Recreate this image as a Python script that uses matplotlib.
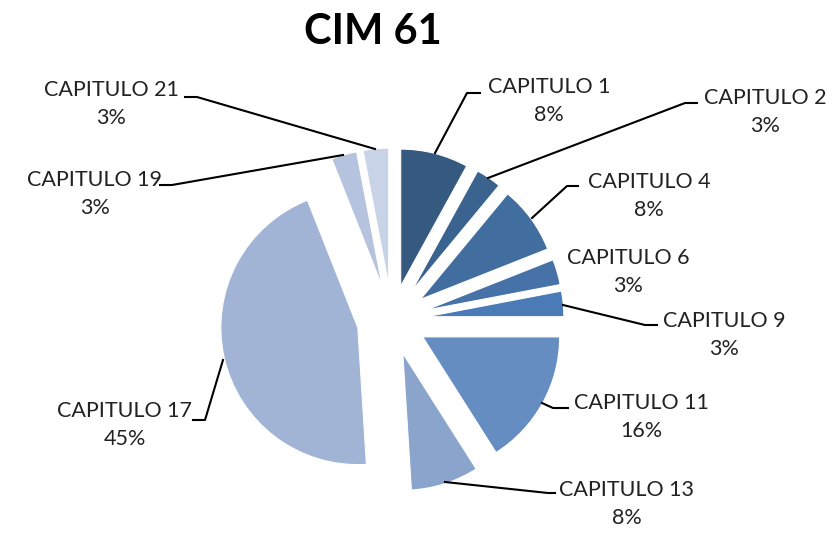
import matplotlib.pyplot as plt

# data
labels = ['CAPITULO 1', 'CAPITULO 2', 'CAPITULO 4', 'CAPITULO 6', 'CAPITULO 9',
          'CAPITULO 11', 'CAPITULO 13', 'CAPITULO 17', 'CAPITULO 19', 'CAPITULO 21']
values = [8, 3, 8, 3, 3, 16, 8, 45, 3, 3]
colors = ['#35597f', '#3b6390', '#416d9f', '#4672a8', '#4a7bb7',
          '#658dc1', '#8aa4cb', '#a2b4d6', '#b5c3de', '#c9d3e7']

# label text centres and leader lines (pixel coords, y from top)
label_pos = [(549, 101), (765, 112), (649, 196), (628, 272), (724, 335),
             (641, 417), (627, 504), (125, 425), (95, 194), (111, 104)]
leaders = [
    [(435, 153), (467, 93), (480, 93)],
    [(488, 178), (685, 103), (697, 103)],
    [(532, 218), (567, 186), (578, 186)],
    None,
    [(563, 305), (645, 325), (657, 325)],
    [(542, 403), (553, 408), (568, 408)],
    [(445, 482), (548, 493), (555, 493)],
    [(223, 360), (205, 420), (193, 420)],
    [(343, 155), (172, 185), (160, 185)],
    [(375, 149), (197, 97), (185, 97)],
]

W, H = 834, 534
fig = plt.figure(figsize=(W / 100, H / 100), dpi=100)
ax = fig.add_axes([0, 0, 1, 1])

# explode is in data units here (pixels)
ax.pie(values, colors=colors, startangle=90, counterclock=False,
       center=(392, H - 320), radius=137, explode=[35] * len(values),
       wedgeprops=dict(edgecolor='white', linewidth=0.8))
ax.set_xlim(0, W)
ax.set_ylim(0, H)
ax.set_aspect('equal')
ax.axis('off')

font = 'Lato'
for lab, val, (x, y), line in zip(labels, values, label_pos, leaders):
    ax.text(x, H - y, f'{lab}\n{val}%', ha='center', va='center',
            fontsize=15.5, family=font, color='#222222', linespacing=1.45)
    if line:
        xs = [p[0] for p in line]
        ys = [H - p[1] for p in line]
        ax.plot(xs, ys, color='black', lw=1.5)

ax.text(373, H - 32, 'CIM 61', ha='center', va='center',
        fontsize=30, fontweight='bold', family=font)

fig.savefig('out.png', dpi=100)
